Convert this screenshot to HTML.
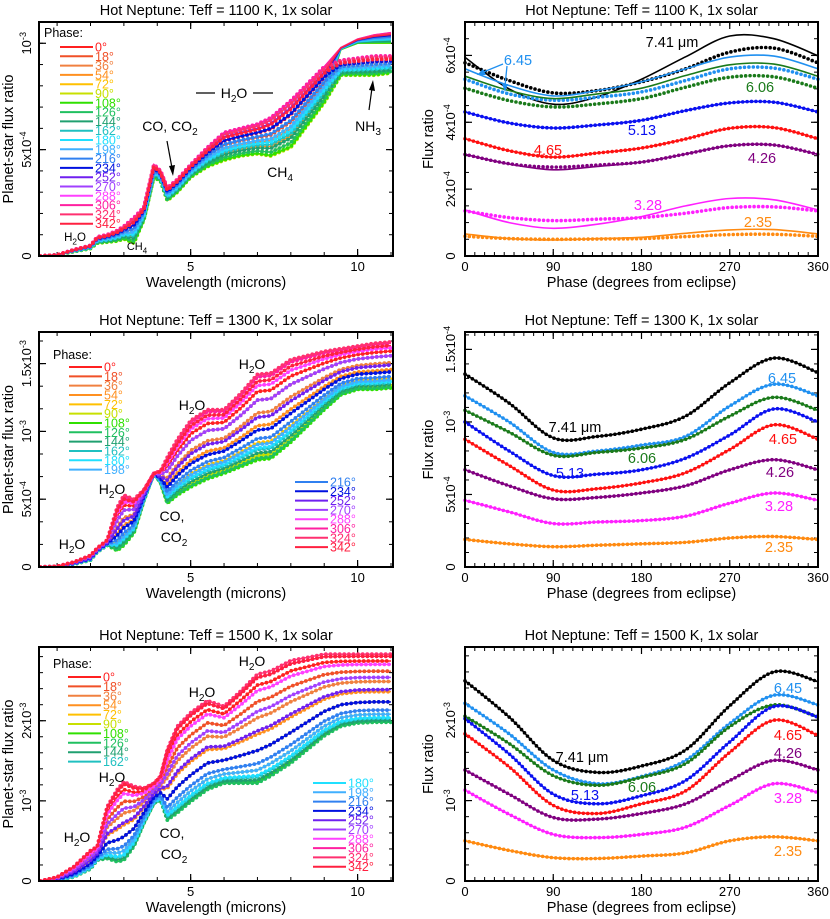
<!DOCTYPE html>
<html><head><meta charset="utf-8"><title>Hot Neptune phase curves</title>
<style>
html,body{margin:0;padding:0;background:#fff;}
svg{display:block;font-family:"Liberation Sans",Arial,sans-serif;}
</style></head>
<body>
<svg id="fig" width="830" height="919" viewBox="0 0 830 919" xmlns="http://www.w3.org/2000/svg"></svg>
<script>
// ---------- DATA ----------
const phases = [0,18,36,54,72,90,108,126,144,162,180,198,216,234,252,270,288,306,324,342];
const phaseColors = ["#ff2020","#f05028","#f08040","#ff9020","#ffc000","#c8e000","#30e000","#20c060","#20a070","#20c0c0","#20e0ff","#40b0ff","#3080f0","#0010e0","#7020f0","#a040ff","#ff40ff","#ff20a0","#ff3070","#ff2040"];
const wl = [0.5,1,1.5,2.0,2.2,2.5,2.8,3.0,3.3,3.6,3.9,4.1,4.3,4.6,5.0,5.5,6.0,6.5,7.0,7.4,8.0,9.0,9.5,10,10.5,11];
// 1100 K spectra envelopes (units 1e-3)
const hi1100 = [0,0.005,0.03,0.05,0.09,0.10,0.12,0.14,0.18,0.23,0.43,0.40,0.32,0.36,0.43,0.51,0.58,0.60,0.62,0.65,0.73,0.89,0.98,1.02,1.04,1.05];
const lo1100 = [0,0.005,0.02,0.035,0.06,0.065,0.07,0.08,0.06,0.17,0.37,0.35,0.26,0.30,0.37,0.42,0.45,0.47,0.48,0.47,0.51,0.72,0.97,1.00,1.00,1.00];
const dotHi1100 = [0,0.005,0.03,0.05,0.09,0.10,0.12,0.14,0.18,0.23,0.43,0.40,0.32,0.36,0.43,0.51,0.58,0.60,0.62,0.65,0.73,0.89,0.92,0.93,0.94,0.94];
const dotLo1100 = [0,0.005,0.02,0.035,0.06,0.065,0.07,0.08,0.06,0.17,0.37,0.35,0.26,0.30,0.37,0.42,0.45,0.47,0.48,0.47,0.51,0.72,0.85,0.85,0.85,0.86];
const w1100 = [0.7,0.55,0.4,0.25,0.1,0.0,0.02,0.1,0.2,0.3,0.36,0.45,0.58,0.72,0.85,0.95,1.0,1.0,0.93,0.82];
// 1300 K
const hi1300 = [0,0.005,0.037,0.086,0.14,0.20,0.44,0.53,0.50,0.57,0.69,0.71,0.81,0.94,1.08,1.16,1.16,1.28,1.42,1.43,1.53,1.59,1.61,1.63,1.65,1.66];
const lo1300 = [0,0.005,0.02,0.05,0.11,0.16,0.12,0.16,0.25,0.49,0.69,0.62,0.47,0.53,0.59,0.65,0.69,0.74,0.79,0.80,0.92,1.16,1.27,1.31,1.31,1.32];
const w1300 = [0.8,0.7,0.55,0.4,0.2,0.05,0.0,0.02,0.08,0.12,0.14,0.18,0.25,0.35,0.5,0.7,0.87,0.97,1.0,0.92];
// 1500 K
const hi1500 = [0,0.05,0.18,0.38,0.43,0.93,1.14,1.24,1.18,1.16,1.22,1.31,1.64,1.93,2.10,2.25,2.18,2.37,2.58,2.62,2.75,2.83,2.83,2.83,2.83,2.83];
const lo1500 = [0,0.005,0.05,0.15,0.26,0.28,0.24,0.26,0.43,0.72,0.97,1.01,0.76,0.85,0.99,1.14,1.22,1.22,1.22,1.31,1.47,1.81,1.93,1.97,1.98,1.98];
const w1500 = [0.9,0.75,0.6,0.45,0.3,0.12,0.02,0.0,0.03,0.06,0.07,0.12,0.18,0.3,0.48,0.66,0.85,0.97,1.0,0.97];

// Phase curves
const orbPh = [0,45,90,135,180,225,270,315,360];
const bandLabels = ["7.41","6.45","6.06","5.13","4.65","4.26","3.28","2.35"];
const bandColors = ["#000000","#2090f0","#1a7a1a","#0a10f0","#ff1010","#800080","#ff20ff","#ff8a10"];
// 1100 K (units 1e-4) solid / dotted
const s1100 = [
 [5.94,5.0,4.54,4.76,5.29,5.96,6.58,6.5,5.99],
 [5.6,5.1,4.79,4.95,5.21,5.6,5.95,5.98,5.6],
 [5.38,4.95,4.71,4.85,5.02,5.4,5.72,5.74,5.38],
 [4.31,3.98,3.83,3.92,4.06,4.35,4.58,4.6,4.31],
 [3.51,3.15,2.96,3.08,3.23,3.5,3.82,3.84,3.51],
 [3.04,2.75,2.58,2.68,2.81,3.05,3.3,3.32,3.04],
 [1.38,1.0,0.83,0.95,1.18,1.5,1.72,1.68,1.38],
 [0.66,0.52,0.48,0.52,0.56,0.68,0.78,0.79,0.66]];
const d1100 = [
 [5.78,5.25,4.88,4.95,5.21,5.6,6.1,6.22,5.78],
 [5.29,4.85,4.66,4.75,4.91,5.25,5.6,5.62,5.29],
 [5.02,4.65,4.46,4.55,4.71,5.05,5.35,5.36,5.02],
 [4.31,3.98,3.83,3.92,4.06,4.35,4.58,4.6,4.31],
 [3.51,3.15,2.96,3.08,3.23,3.5,3.82,3.84,3.51],
 [3.04,2.76,2.66,2.72,2.81,3.05,3.3,3.32,3.04],
 [1.35,1.15,1.06,1.1,1.15,1.28,1.45,1.47,1.35],
 [0.59,0.52,0.50,0.51,0.52,0.58,0.64,0.65,0.59]];
// 1300 K (units 1e-3)
const s1300 = [
 [1.33,1.13,0.89,0.90,0.95,1.04,1.27,1.44,1.34],
 [1.18,1.00,0.79,0.80,0.84,0.90,1.11,1.26,1.18],
 [1.08,0.93,0.77,0.79,0.82,0.88,1.04,1.17,1.08],
 [1.00,0.80,0.63,0.64,0.67,0.75,0.91,1.09,1.00],
 [0.88,0.70,0.53,0.54,0.58,0.65,0.81,0.98,0.88],
 [0.67,0.56,0.47,0.48,0.51,0.56,0.67,0.74,0.67],
 [0.46,0.38,0.30,0.31,0.32,0.35,0.44,0.51,0.46],
 [0.19,0.16,0.14,0.15,0.16,0.17,0.20,0.21,0.19]];
// 1500 K (units 1e-3)
const s1500 = [
 [2.49,2.04,1.5,1.35,1.43,1.63,2.18,2.6,2.48],
 [2.21,1.83,1.38,1.21,1.30,1.50,1.96,2.31,2.19],
 [2.05,1.71,1.31,1.19,1.29,1.46,1.92,2.19,2.04],
 [2.02,1.58,1.08,0.96,1.06,1.25,1.73,2.17,2.04],
 [1.83,1.42,0.94,0.84,0.96,1.12,1.60,2.0,1.81],
 [1.38,1.08,0.79,0.77,0.84,0.96,1.25,1.5,1.38],
 [1.13,0.83,0.58,0.54,0.58,0.67,0.94,1.21,1.10],
 [0.5,0.38,0.29,0.28,0.31,0.35,0.5,0.55,0.5]];

// ---------- HELPERS ----------
const NS="http://www.w3.org/2000/svg";
const svg=document.getElementById('fig');
function mk(tag,attrs,parent){const e=document.createElementNS(NS,tag);for(const k in attrs)e.setAttribute(k,attrs[k]);(parent||svg).appendChild(e);return e;}
function lin(d0,d1,r0,r1){return v=>r0+(v-d0)/(d1-d0)*(r1-r0);}
function smoothPath(pts){
  let d="M"+pts[0][0].toFixed(1)+","+pts[0][1].toFixed(1);
  for(let i=0;i<pts.length-1;i++){
    const p0=pts[Math.max(0,i-1)],p1=pts[i],p2=pts[i+1],p3=pts[Math.min(pts.length-1,i+2)];
    const c1=[p1[0]+(p2[0]-p0[0])/6,p1[1]+(p2[1]-p0[1])/6];
    const c2=[p2[0]-(p3[0]-p1[0])/6,p2[1]-(p3[1]-p1[1])/6];
    d+=" C"+c1[0].toFixed(1)+","+c1[1].toFixed(1)+" "+c2[0].toFixed(1)+","+c2[1].toFixed(1)+" "+p2[0].toFixed(1)+","+p2[1].toFixed(1);
  }
  return d;
}
function polyPath(pts){return "M"+pts.map(p=>p[0].toFixed(1)+","+p[1].toFixed(1)).join(" L");}
function addText(g,x,y,str,size,color,anchor,rot){
  const t=mk('text',{x:x,y:y,'font-size':size,fill:color||'#000','text-anchor':anchor||'middle'},g);
  if(rot)t.setAttribute('transform','rotate(-90 '+x+' '+y+')');
  t.textContent=str;return t;
}
function addSupText(g,x,y,base,sup,size,color,anchor,rot){
  const t=mk('text',{x:x,y:y,'font-size':size,fill:color||'#000','text-anchor':anchor||'middle'},g);
  if(rot)t.setAttribute('transform','rotate(-90 '+x+' '+y+')');
  const a=mk('tspan',{},t);a.textContent=base;
  const b=mk('tspan',{'font-size':size*0.7,dy:-size*0.4},t);b.textContent=sup;
  return t;
}
function addSubText(g,x,y,parts,size,color,anchor){
  const t=mk('text',{x:x,y:y,'font-size':size,fill:color||'#000','text-anchor':anchor||'middle'},g);
  let shifted=false;
  parts.forEach(p=>{
    const s=mk('tspan',{},t);
    if(p[1]){s.setAttribute('font-size',size*0.72);s.setAttribute('dy',size*0.3);shifted=true;}
    else if(shifted){s.setAttribute('dy',-size*0.3);shifted=false;}
    s.textContent=p[0];
  });
  return t;
}

// ---------- AXES FRAME ----------
function frame(g,x0,x1,y0,y1,title,xlab,ylab,xticks,xminor,xs,yticks,yminor,ys,ylabX,ytitleX){
  const tt=addText(g,(x0+x1)/2,y0-7,title,14.5,'#000');
  
  
  xminor.forEach(v=>{const x=xs(v);
    mk('line',{x1:x,x2:x,y1:y1,y2:y1-4,stroke:'#000','stroke-width':1},g);
    mk('line',{x1:x,x2:x,y1:y0,y2:y0+4,stroke:'#000','stroke-width':1},g);});
  yminor.forEach(v=>{const y=ys(v);
    mk('line',{x1:x0,x2:x0+4,y1:y,y2:y,stroke:'#000','stroke-width':1},g);
    mk('line',{x1:x1,x2:x1-4,y1:y,y2:y,stroke:'#000','stroke-width':1},g);});
  xticks.forEach(t=>{const x=xs(t[0]);
    mk('line',{x1:x,x2:x,y1:y1,y2:y1-7,stroke:'#000','stroke-width':1.2},g);
    mk('line',{x1:x,x2:x,y1:y0,y2:y0+7,stroke:'#000','stroke-width':1.2},g);
    const l=addText(g,x,y1+15,t[1],13,'#000');
    
    });
  yticks.forEach(t=>{const y=ys(t[0]);
    mk('line',{x1:x0,x2:x0+7,y1:y,y2:y,stroke:'#000','stroke-width':1.2},g);
    mk('line',{x1:x1,x2:x1-7,y1:y,y2:y,stroke:'#000','stroke-width':1.2},g);
    let l;
    if(t[2])l=addSupText(g,ylabX,y,t[1],t[2],13,'#000','middle',true);
    else l=addText(g,ylabX,y,t[1],13,'#000','middle',true);
    
    });
  const xl=addText(g,(x0+x1)/2,y1+31,xlab,14.5,'#000');
  
  
  const yl=addText(g,ytitleX,(y0+y1)/2,ylab,14.5,'#000','middle',true);
  
  
}
function border(g,x0,x1,y0,y1){
  const r=mk('rect',{x:x0,y:y0,width:x1-x0,height:y1-y0,fill:'none',stroke:'#000','stroke-width':2},g);
  
  
}

// ---------- SPECTRUM PANEL ----------
function spectrumPanel(name,x0,x1,y0,y1,ymax,title,hi,lo,dHi,dLo,weights,yticks,yminorStep,legendSpec,annot){
  const g=mk('g',{});
  
  
  const xs=lin(0.458,11.06,x0,x1), ys=lin(0,ymax,y1,y0);
  const xminor=[];for(let v=1;v<=11;v++)xminor.push(v);
  const yminor=[];for(let v=0;v<=ymax;v+=yminorStep)yminor.push(v);
  frame(g,x0,x1,y0,y1,title,'Wavelength (microns)','Planet-star flux ratio',[[5,'5'],[10,'10']],xminor,xs,yticks,yminor,ys,x0-8,13);
  const clip=mk('clipPath',{id:name+'-clip'},g);
  mk('rect',{x:x0,y:y0,width:x1-x0,height:y1-y0},clip);
  const cg=mk('g',{'clip-path':'url(#'+name+'-clip)'},g);
  phases.forEach((ph,i)=>{
    const w=weights[i];
    const pts=wl.map((x,j)=>[xs(x),ys(lo[j]+(hi[j]-lo[j])*w)]);
    const dpts=wl.map((x,j)=>[xs(x),ys(dLo[j]+(dHi[j]-dLo[j])*w)]);
    const ln=mk('path',{d:polyPath(pts),fill:'none',stroke:phaseColors[i],'stroke-width':1.4},cg);
    
    
    const dt=mk('path',{d:polyPath(dpts),fill:'none',stroke:phaseColors[i],'stroke-width':3.8,'stroke-linecap':'round','stroke-dasharray':'0 4.6'},cg);
    
    
  });
  legendSpec.forEach(ls=>{
    for(let k=ls.from;k<=ls.to;k++){
      const y=ls.y+(k-ls.from)*ls.step;
      const l=mk('line',{x1:ls.x,x2:ls.x+33,y1:y,y2:y,stroke:phaseColors[k],'stroke-width':2},g);
      
      
      const t=addText(g,ls.x+35,y+4.5,phases[k]+'°',12.5,phaseColors[k],'start');
      
      
    }
  });
  annot(g);
  border(g,x0,x1,y0,y1);
}

// ---------- PHASE CURVE PANEL ----------
function phasePanel(name,x0,x1,y0,y1,ymax,title,solid,dotted,yticks,yminorStep,labels){
  const g=mk('g',{});
  
  
  const xs=lin(0,360,x0,x1), ys=lin(0,ymax,y1,y0);
  const xminor=[];for(let v=0;v<=360;v+=10)xminor.push(v);
  const yminor=[];for(let v=0;v<=ymax;v+=yminorStep)yminor.push(v);
  frame(g,x0,x1,y0,y1,title,'Phase (degrees from eclipse)','Flux ratio',[[0,'0'],[90,'90'],[180,'180'],[270,'270'],[360,'360']],xminor,xs,yticks,yminor,ys,x0-10,433);
  bandLabels.forEach((b,i)=>{
    const sp=orbPh.map((p,j)=>[xs(p),ys(solid[i][j])]);
    const dp=orbPh.map((p,j)=>[xs(p),ys(dotted[i][j])]);
    const ln=mk('path',{d:smoothPath(sp),fill:'none',stroke:bandColors[i],'stroke-width':1.6},g);
    
    
    const dt=mk('path',{d:smoothPath(dp),fill:'none',stroke:bandColors[i],'stroke-width':3.6,'stroke-linecap':'round','stroke-dasharray':'0 4.4'},g);
    
    
  });
  labels.forEach((l,i)=>{
    const t=addText(g,l[0],l[1]+5,i===0?'7.41 μm':bandLabels[i],14.5,bandColors[i]);
    
    
  });
  border(g,x0,x1,y0,y1);
  return g;
}

// ---------- BUILD ----------
spectrumPanel('spectrum-1100k',39,393,22,256,1.100,'Hot Neptune: Teff = 1100 K, 1x solar',hi1100,lo1100,dotHi1100,dotLo1100,w1100,
  [[0,'0'],[0.5,'5x10','-4'],[1.0,'10','-3']],0.1,
  [{from:0,to:19,x:60,y:47,step:9.3}],
  g=>{
    const p=addText(g,44,37,'Phase:',12.5,'#000','start');
    let t=addSubText(g,75,241,[['H',0],['2',1],['O',0]],11.5,'#000');
    t=addSubText(g,137,250,[['CH',0],['4',1]],11,'#000');
    t=addSubText(g,170,131,[['CO, CO',0],['2',1]],14,'#000');
    t=addSubText(g,234,98,[['H',0],['2',1],['O',0]],14,'#000');
    mk('line',{x1:196,x2:215,y1:93,y2:93,stroke:'#000','stroke-width':1.2},g);
    mk('line',{x1:253,x2:273,y1:93,y2:93,stroke:'#000','stroke-width':1.2},g);
    t=addSubText(g,280,177,[['CH',0],['4',1]],14,'#000');
    t=addSubText(g,368,131,[['NH',0],['3',1]],14,'#000');
    mk('line',{x1:167,x2:172,y1:141,y2:168,stroke:'#000','stroke-width':1.2},g);
    mk('path',{d:'M169,166 L173,176 L175,165 Z',fill:'#000'},g);
    mk('line',{x1:369,x2:372,y1:110,y2:88,stroke:'#000','stroke-width':1.2},g);
    mk('path',{d:'M369,90 L373,80 L375,91 Z',fill:'#000'},g);
  });

spectrumPanel('spectrum-1300k',39,393,332,567,1.733,'Hot Neptune: Teff = 1300 K, 1x solar',hi1300,lo1300,hi1300,lo1300,w1300,
  [[0,'0'],[0.5,'5x10','-4'],[1.0,'10','-3'],[1.5,'1.5x10','-3']],0.5/3,
  [{from:0,to:11,x:69,y:367,step:9.33},{from:12,to:19,x:295,y:482,step:9.3}],
  g=>{
    const p=addText(g,53,359,'Phase:',12.5,'#000','start');
    let t=addSubText(g,72,549,[['H',0],['2',1],['O',0]],14,'#000');
    t=addSubText(g,112,494,[['H',0],['2',1],['O',0]],14,'#000');
    t=addText(g,172,521,'CO,',14,'#000');
    t=addSubText(g,174,542,[['CO',0],['2',1]],14,'#000');
    t=addSubText(g,192,410,[['H',0],['2',1],['O',0]],14,'#000');
    t=addSubText(g,252,369,[['H',0],['2',1],['O',0]],14,'#000');
  });

spectrumPanel('spectrum-1500k',39,393,647,881,2.92,'Hot Neptune: Teff = 1500 K, 1x solar',hi1500,lo1500,hi1500,lo1500,w1500,
  [[0,'0'],[1.0,'10','-3'],[2.0,'2x10','-3']],0.2,
  [{from:0,to:9,x:68,y:677,step:9.4},{from:10,to:19,x:313,y:783,step:9.3}],
  g=>{
    const p=addText(g,53,668,'Phase:',12.5,'#000','start');
    let t=addSubText(g,77,842,[['H',0],['2',1],['O',0]],14,'#000');
    t=addSubText(g,112,782,[['H',0],['2',1],['O',0]],14,'#000');
    t=addText(g,172,838,'CO,',14,'#000');
    t=addSubText(g,174,859,[['CO',0],['2',1]],14,'#000');
    t=addSubText(g,202,697,[['H',0],['2',1],['O',0]],14,'#000');
    t=addSubText(g,252,666,[['H',0],['2',1],['O',0]],14,'#000');
  });

const g1=phasePanel('phase-curve-1100k',465,818,22,256,7.0,'Hot Neptune: Teff = 1100 K, 1x solar',s1100,d1100,
  [[0,'0'],[2,'2x10','-4'],[4,'4x10','-4'],[6,'6x10','-4']],0.5,
  [[672,42],[518,60],[760,87],[642,130],[548,150],[762,158],[648,205],[758,222]]);
mk('line',{x1:503,x2:481,y1:64,y2:73,stroke:'#2090f0','stroke-width':1.3},g1);
mk('path',{d:'M483,69 L477,75 L486,75 Z',fill:'#2090f0'},g1);
mk('line',{x1:507,x2:505,y1:66,y2:86,stroke:'#2090f0','stroke-width':1.3},g1);
mk('path',{d:'M502,84 L505,92 L508,84 Z',fill:'#2090f0'},g1);

phasePanel('phase-curve-1300k',465,818,332,567,1.62,'Hot Neptune: Teff = 1300 K, 1x solar',s1300,s1300,
  [[0,'0'],[0.5,'5x10','-4'],[1.0,'10','-3'],[1.5,'1.5x10','-4']],0.1,
  [[575,427],[782,378],[642,458],[570,473],[783,439],[780,472],[779,506],[779,547]]);

phasePanel('phase-curve-1500k',465,818,647,881,2.91,'Hot Neptune: Teff = 1500 K, 1x solar',s1500,s1500,
  [[0,'0'],[1.0,'10','-3'],[2.0,'2x10','-3']],0.2,
  [[582,757],[788,688],[642,787],[585,795],[788,735],[788,753],[788,798],[788,851]]);
</script>
</body></html>
